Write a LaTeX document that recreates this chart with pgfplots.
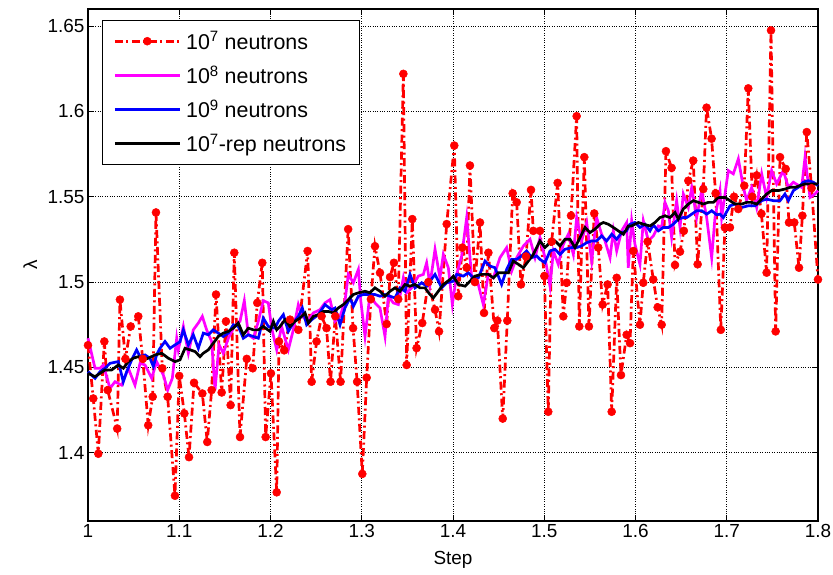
\documentclass[border=0pt]{standalone}
\usepackage{fontspec}
\setmainfont{Liberation Sans}
\usepackage{pgfplots}
\pgfplotsset{compat=1.18}
\newcommand{\fs}{\fontsize{19}{23}\selectfont}
\newcommand{\fl}{\fontsize{21.5}{26}\selectfont}
\begin{document}
\begin{tikzpicture}
\useasboundingbox (-88bp,-54bp) rectangle (745bp,521bp);
\begin{axis}[
  scale only axis, width=730bp, height=512bp,
  at={(0,0)}, anchor=south west,
  xmin=1, xmax=1.8, ymin=1.36, ymax=1.66,
  xtick={1,1.1,1.2,1.3,1.4,1.5,1.6,1.7,1.8},
  ytick={1.4,1.45,1.5,1.55,1.6,1.65},
  xticklabels={1,1.1,1.2,1.3,1.4,1.5,1.6,1.7,1.8},
  yticklabels={1.4,1.45,1.5,1.55,1.6,1.65},
  tick pos=both, xticklabel pos=lower, yticklabel pos=left,
  tick align=inside, major tick length=6bp,
  tick style={black, line width=0.8bp},
  axis line style={line width=1.1bp},
  grid=major, major grid style={black, dotted, line width=0.8bp},
  ticklabel style={font=\fs},
  label style={font=\fs},
  xlabel={Step}, ylabel={λ},
  xlabel style={at={(axis description cs:0.5,-0.076)}, anchor=center},
  ylabel style={at={(axis description cs:-0.079,0.5)}, anchor=center},
  clip=false,
  legend cell align=left,
  legend style={at={(rel axis cs:0.019,0.9785)}, anchor=north west, draw=black, line width=1.1bp,
    font=\fl, row sep=10.7bp, column sep=3bp, inner xsep=11bp, inner ysep=9bp, fill=white},
  legend image code/.code={\draw[mark repeat=2,mark phase=2,#1] plot coordinates {(0bp,0bp) (32.5bp,0bp) (65bp,0bp)};},
]
\addplot[red, line width=2.7bp, dash pattern=on 8bp off 3.5bp on 2bp off 3.5bp, mark=*, mark size=4bp, mark options={solid, fill=red, draw=red, line width=0.5bp}] coordinates {
(1.000,1.463)(1.0058,1.4318)(1.0113,1.3994)(1.0179,1.4652)(1.0216,1.4367)(1.0320,1.4141)(1.0350,1.4897)(1.0410,1.455)(1.0468,1.4740)(1.0551,1.4799)(1.0600,1.455)(1.0660,1.4161)(1.0709,1.4328)(1.0745,1.5408)(1.0814,1.4495)(1.0873,1.4328)(1.0953,1.3748)(1.1000,1.445)(1.1056,1.4230)(1.1107,1.3974)(1.1162,1.4410)(1.1253,1.4347)(1.1307,1.4063)(1.1355,1.4367)(1.1403,1.4927)(1.1465,1.4353)(1.1512,1.4770)(1.1563,1.4279)(1.1603,1.5172)(1.1666,1.4092)(1.1740,1.455)(1.1805,1.4495)(1.1855,1.4878)(1.1910,1.5113)(1.1947,1.4092)(1.2005,1.4465)(1.2068,1.3768)(1.2093,1.4652)(1.2150,1.46)(1.2214,1.4780)(1.2305,1.4720)(1.2407,1.5182)(1.2451,1.4416)(1.2505,1.4652)(1.2560,1.48)(1.2614,1.4730)(1.2658,1.4416)(1.2710,1.48)(1.2768,1.4416)(1.2851,1.5310)(1.2905,1.4730)(1.2949,1.4416)(1.3006,1.3876)(1.3054,1.4440)(1.3100,1.49)(1.3145,1.5210)(1.3200,1.5054)(1.3273,1.4754)(1.3310,1.5029)(1.3353,1.5113)(1.3400,1.49)(1.3456,1.6220)(1.3492,1.4514)(1.3554,1.5369)(1.3601,1.4613)(1.3663,1.4760)(1.3730,1.50)(1.3803,1.4838)(1.3847,1.4711)(1.3931,1.5340)(1.4014,1.5800)(1.4058,1.4917)(1.4102,1.5202)(1.4150,1.5084)(1.4186,1.5683)(1.4240,1.50)(1.4296,1.5349)(1.4340,1.4819)(1.4388,1.5172)(1.4453,1.4730)(1.4486,1.4774)(1.4545,1.4200)(1.4595,1.4774)(1.4654,1.5520)(1.4698,1.5467)(1.4745,1.4986)(1.4800,1.515)(1.4855,1.5540)(1.4880,1.5300)(1.4953,1.5300)(1.5001,1.5035)(1.5044,1.4240)(1.5081,1.5237)(1.5147,1.5581)(1.5209,1.4799)(1.5246,1.4996)(1.5293,1.5389)(1.5355,1.5972)(1.5384,1.4740)(1.5439,1.5732)(1.5490,1.4740)(1.5548,1.5402)(1.5592,1.5202)(1.5640,1.4868)(1.5695,1.4986)(1.5739,1.4240)(1.5794,1.5025)(1.5841,1.4455)(1.5903,1.4691)(1.5940,1.4642)(1.5976,1.5182)(1.6049,1.4750)(1.6085,1.4996)(1.6133,1.5237)(1.6195,1.5015)(1.6243,1.4852)(1.6287,1.4750)(1.6334,1.5767)(1.6396,1.5669)(1.6433,1.5100)(1.6488,1.5178)(1.6530,1.53)(1.6579,1.5594)(1.6633,1.5712)(1.6681,1.5104)(1.6743,1.5545)(1.6779,1.6022)(1.6834,1.5840)(1.6878,1.5520)(1.6935,1.4720)(1.6980,1.5320)(1.7035,1.5320)(1.7080,1.55)(1.7126,1.5428)(1.7192,1.5565)(1.7236,1.6135)(1.7280,1.55)(1.7328,1.5625)(1.7380,1.54)(1.7437,1.5055)(1.7485,1.6475)(1.7536,1.4711)(1.7584,1.5732)(1.7646,1.5663)(1.7682,1.5349)(1.7740,1.5349)(1.7792,1.5084)(1.7829,1.5389)(1.7877,1.5879)(1.7930,1.555)(1.8000,1.5015)
};
\addlegendentry{10\textsuperscript{7} neutrons}
\addplot[color={rgb,255:red,255;green,0;blue,255}, line width=2.7bp] coordinates {
(1.0000,1.4671)(1.0077,1.4495)(1.0132,1.4495)(1.0168,1.4514)(1.0241,1.4377)(1.0296,1.4416)(1.0369,1.4396)(1.0442,1.4495)(1.0515,1.4396)(1.0570,1.4524)(1.0625,1.4514)(1.0698,1.4436)(1.0752,1.4534)(1.0826,1.4455)(1.0873,1.4367)(1.0924,1.4436)(1.0972,1.4671)(1.0990,1.4603)(1.1045,1.4740)(1.1100,1.4583)(1.1154,1.4720)(1.1209,1.4760)(1.1253,1.4799)(1.1300,1.4720)(1.1355,1.4652)(1.1392,1.4367)(1.1436,1.4632)(1.1483,1.4583)(1.1538,1.4671)(1.1604,1.4740)(1.1666,1.4770)(1.1713,1.4891)(1.1757,1.4691)(1.1812,1.4671)(1.1867,1.4770)(1.1921,1.4891)(1.1976,1.4878)(1.2013,1.4730)(1.2068,1.4603)(1.2122,1.4740)(1.2195,1.4603)(1.2250,1.4720)(1.2305,1.4868)(1.2349,1.4799)(1.2407,1.4770)(1.2469,1.4819)(1.2542,1.4838)(1.2597,1.4878)(1.2652,1.4897)(1.2707,1.4770)(1.2762,1.4799)(1.2816,1.4887)(1.2853,1.5045)(1.2908,1.4996)(1.2963,1.5074)(1.2990,1.4887)(1.3036,1.4681)(1.3090,1.4927)(1.3145,1.4878)(1.3200,1.4848)(1.3255,1.4681)(1.3291,1.4917)(1.3346,1.4878)(1.3401,1.4868)(1.3456,1.5025)(1.3492,1.4937)(1.3547,1.4966)(1.3620,1.5035)(1.3675,1.5045)(1.3711,1.5113)(1.3748,1.4986)(1.3803,1.5192)(1.3857,1.5025)(1.3894,1.5162)(1.3949,1.5084)(1.3993,1.4868)(1.4040,1.5045)(1.4095,1.5153)(1.4150,1.5378)(1.4205,1.5025)(1.4259,1.5025)(1.4332,1.4868)(1.4387,1.5045)(1.4442,1.5025)(1.4515,1.5143)(1.4588,1.5202)(1.4643,1.5064)(1.4698,1.5143)(1.4771,1.5211)(1.4844,1.5251)(1.4899,1.5143)(1.4953,1.5261)(1.5008,1.5143)(1.5063,1.4976)(1.5100,1.5182)(1.5154,1.5104)(1.5209,1.5221)(1.5264,1.5280)(1.5319,1.5162)(1.5355,1.5378)(1.5410,1.5241)(1.5465,1.5349)(1.5520,1.5123)(1.5574,1.5378)(1.5629,1.5280)(1.5666,1.5241)(1.5721,1.5143)(1.5757,1.5300)(1.5794,1.5182)(1.5848,1.5300)(1.5903,1.5349)(1.5921,1.5084)(1.5958,1.5359)(1.5994,1.5221)(1.6049,1.5104)(1.6086,1.5359)(1.6141,1.5241)(1.6195,1.5270)(1.6250,1.5329)(1.6287,1.5320)(1.6323,1.5467)(1.6360,1.5418)(1.6396,1.5261)(1.6451,1.5477)(1.6488,1.5320)(1.6524,1.5516)(1.6579,1.5437)(1.6616,1.5555)(1.6670,1.5378)(1.6725,1.5536)(1.6780,1.5378)(1.6835,1.5143)(1.6871,1.5378)(1.6926,1.5536)(1.6944,1.5378)(1.6981,1.5516)(1.7017,1.5653)(1.7072,1.5634)(1.7127,1.5722)(1.7182,1.5555)(1.7218,1.5477)(1.7273,1.5555)(1.7328,1.5437)(1.7383,1.5634)(1.7437,1.5496)(1.7492,1.5653)(1.7547,1.5575)(1.7620,1.5653)(1.7675,1.5555)(1.7730,1.5585)(1.7821,1.5555)(1.7858,1.5732)(1.7912,1.5496)(1.7967,1.5516)(1.8000,1.5536)
};
\addlegendentry{10\textsuperscript{8} neutrons}
\addplot[blue, line width=2.7bp] coordinates {
(1.0000,1.4475)(1.0077,1.4436)(1.0132,1.4475)(1.0186,1.4495)(1.0241,1.4524)(1.0332,1.4534)(1.0387,1.4416)(1.0424,1.4475)(1.0479,1.4544)(1.0533,1.4603)(1.0570,1.4563)(1.0625,1.4573)(1.0679,1.4554)(1.0716,1.4505)(1.0752,1.4573)(1.0789,1.4612)(1.0844,1.4652)(1.0899,1.4612)(1.0954,1.4632)(1.1008,1.4650)(1.1045,1.4720)(1.1100,1.4632)(1.1154,1.4691)(1.1209,1.4612)(1.1264,1.4701)(1.1319,1.4691)(1.1373,1.4720)(1.1428,1.4701)(1.1483,1.4681)(1.1538,1.4701)(1.1593,1.4750)(1.1647,1.4740)(1.1702,1.4671)(1.1757,1.4691)(1.1812,1.4681)(1.1867,1.4671)(1.1921,1.4789)(1.1976,1.4740)(1.2049,1.4730)(1.2086,1.4770)(1.2141,1.4809)(1.2195,1.4711)(1.2250,1.4760)(1.2305,1.4799)(1.2349,1.4848)(1.2396,1.4750)(1.2451,1.4779)(1.2524,1.4809)(1.2597,1.4868)(1.2670,1.4838)(1.2707,1.4848)(1.2762,1.4750)(1.2816,1.4848)(1.2871,1.4907)(1.2908,1.4858)(1.2963,1.4917)(1.3017,1.4927)(1.3090,1.4927)(1.3145,1.4927)(1.3200,1.4917)(1.3255,1.4927)(1.3310,1.4917)(1.3364,1.4907)(1.3419,1.4966)(1.3474,1.4946)(1.3529,1.5045)(1.3584,1.4966)(1.3657,1.4996)(1.3711,1.4976)(1.3748,1.5005)(1.3803,1.5045)(1.3876,1.4966)(1.3931,1.4996)(1.4004,1.5005)(1.4040,1.5045)(1.4113,1.5035)(1.4168,1.5054)(1.4223,1.5025)(1.4278,1.5025)(1.4351,1.5123)(1.4406,1.5094)(1.4460,1.5084)(1.4533,1.4986)(1.4588,1.5074)(1.4643,1.5133)(1.4698,1.5133)(1.4752,1.5153)(1.4807,1.5182)(1.4862,1.5143)(1.4917,1.5153)(1.4953,1.5133)(1.5008,1.5113)(1.5063,1.5182)(1.5118,1.5192)(1.5173,1.5162)(1.5227,1.5192)(1.5300,1.5202)(1.5355,1.5202)(1.5410,1.5212)(1.5465,1.5231)(1.5520,1.5241)(1.5574,1.5241)(1.5629,1.5270)(1.5684,1.5241)(1.5739,1.5280)(1.5794,1.5251)(1.5848,1.5290)(1.5903,1.5300)(1.5940,1.5339)(1.5994,1.5349)(1.6049,1.5320)(1.6104,1.5339)(1.6159,1.5300)(1.6195,1.5335)(1.6250,1.5300)(1.6305,1.5320)(1.6360,1.5320)(1.6415,1.5339)(1.6469,1.5369)(1.6524,1.5378)(1.6561,1.5378)(1.6616,1.5398)(1.6670,1.5418)(1.6725,1.5418)(1.6780,1.5398)(1.6835,1.5418)(1.6890,1.5394)(1.6926,1.5398)(1.6963,1.5378)(1.7036,1.5447)(1.7090,1.5457)(1.7163,1.5437)(1.7237,1.5447)(1.7310,1.5447)(1.7383,1.5477)(1.7437,1.5486)(1.7510,1.5477)(1.7584,1.5477)(1.7638,1.5516)(1.7675,1.5477)(1.7730,1.5536)(1.7784,1.5555)(1.7839,1.5585)(1.7894,1.5594)(1.7949,1.5585)(1.8000,1.5565)
};
\addlegendentry{10\textsuperscript{9} neutrons}
\addplot[black, line width=2.7bp] coordinates {
(1.0000,1.4465)(1.0077,1.4446)(1.0132,1.4465)(1.0186,1.4485)(1.0259,1.4485)(1.0332,1.4514)(1.0387,1.4495)(1.0442,1.4534)(1.0497,1.4554)(1.0552,1.4563)(1.0606,1.4544)(1.0661,1.4554)(1.0734,1.4573)(1.0807,1.4583)(1.0880,1.4554)(1.0954,1.4534)(1.1008,1.4544)(1.1063,1.4612)(1.1118,1.4603)(1.1173,1.4593)(1.1227,1.4563)(1.1264,1.4583)(1.1319,1.4603)(1.1373,1.4642)(1.1428,1.4681)(1.1483,1.4701)(1.1538,1.4711)(1.1593,1.4730)(1.1647,1.4760)(1.1702,1.4691)(1.1757,1.4730)(1.1812,1.4720)(1.1867,1.4720)(1.1921,1.4740)(1.1994,1.4711)(1.2031,1.4770)(1.2068,1.4720)(1.2104,1.4740)(1.2159,1.4779)(1.2214,1.4740)(1.2268,1.4770)(1.2323,1.4789)(1.2378,1.4819)(1.2415,1.4760)(1.2469,1.4799)(1.2524,1.4809)(1.2579,1.4828)(1.2634,1.4828)(1.2689,1.4819)(1.2743,1.4848)(1.2798,1.4868)(1.2853,1.4897)(1.2908,1.4927)(1.2963,1.4937)(1.3036,1.4946)(1.3090,1.4937)(1.3145,1.4966)(1.3200,1.4946)(1.3255,1.4917)(1.3310,1.4946)(1.3364,1.4966)(1.3419,1.4946)(1.3474,1.4986)(1.3529,1.4976)(1.3584,1.4986)(1.3638,1.4966)(1.3693,1.4966)(1.3748,1.4927)(1.3784,1.4907)(1.3839,1.4946)(1.3894,1.4986)(1.3967,1.5015)(1.4004,1.5035)(1.4058,1.4986)(1.4132,1.4976)(1.4186,1.5005)(1.4241,1.5035)(1.4314,1.5045)(1.4387,1.5045)(1.4442,1.5025)(1.4497,1.5054)(1.4551,1.5054)(1.4606,1.5054)(1.4661,1.5123)(1.4716,1.5104)(1.4771,1.5084)(1.4826,1.5123)(1.4880,1.5162)(1.4953,1.5241)(1.5008,1.5202)(1.5063,1.5231)(1.5118,1.5241)(1.5173,1.5212)(1.5227,1.5251)(1.5282,1.5251)(1.5337,1.5202)(1.5392,1.5261)(1.5447,1.5320)(1.5501,1.5290)(1.5556,1.5310)(1.5611,1.5339)(1.5648,1.5349)(1.5702,1.5339)(1.5757,1.5320)(1.5812,1.5300)(1.5867,1.5280)(1.5922,1.5329)(1.5958,1.5329)(1.6031,1.5349)(1.6086,1.5339)(1.6159,1.5329)(1.6214,1.5349)(1.6268,1.5378)(1.6323,1.5388)(1.6378,1.5378)(1.6433,1.5408)(1.6469,1.5369)(1.6524,1.5428)(1.6579,1.5457)(1.6634,1.5477)(1.6689,1.5467)(1.6743,1.5457)(1.6798,1.5467)(1.6853,1.5467)(1.6908,1.5496)(1.6981,1.5496)(1.7036,1.5477)(1.7090,1.5457)(1.7163,1.5457)(1.7218,1.5467)(1.7273,1.5467)(1.7328,1.5457)(1.7383,1.5486)(1.7437,1.5516)(1.7492,1.5536)(1.7566,1.5536)(1.7638,1.5545)(1.7693,1.5555)(1.7748,1.5555)(1.7803,1.5565)(1.7857,1.5575)(1.7930,1.5575)(1.8000,1.5575)
};
\addlegendentry{10\textsuperscript{7}-rep neutrons}
\end{axis}
\end{tikzpicture}
\end{document}
